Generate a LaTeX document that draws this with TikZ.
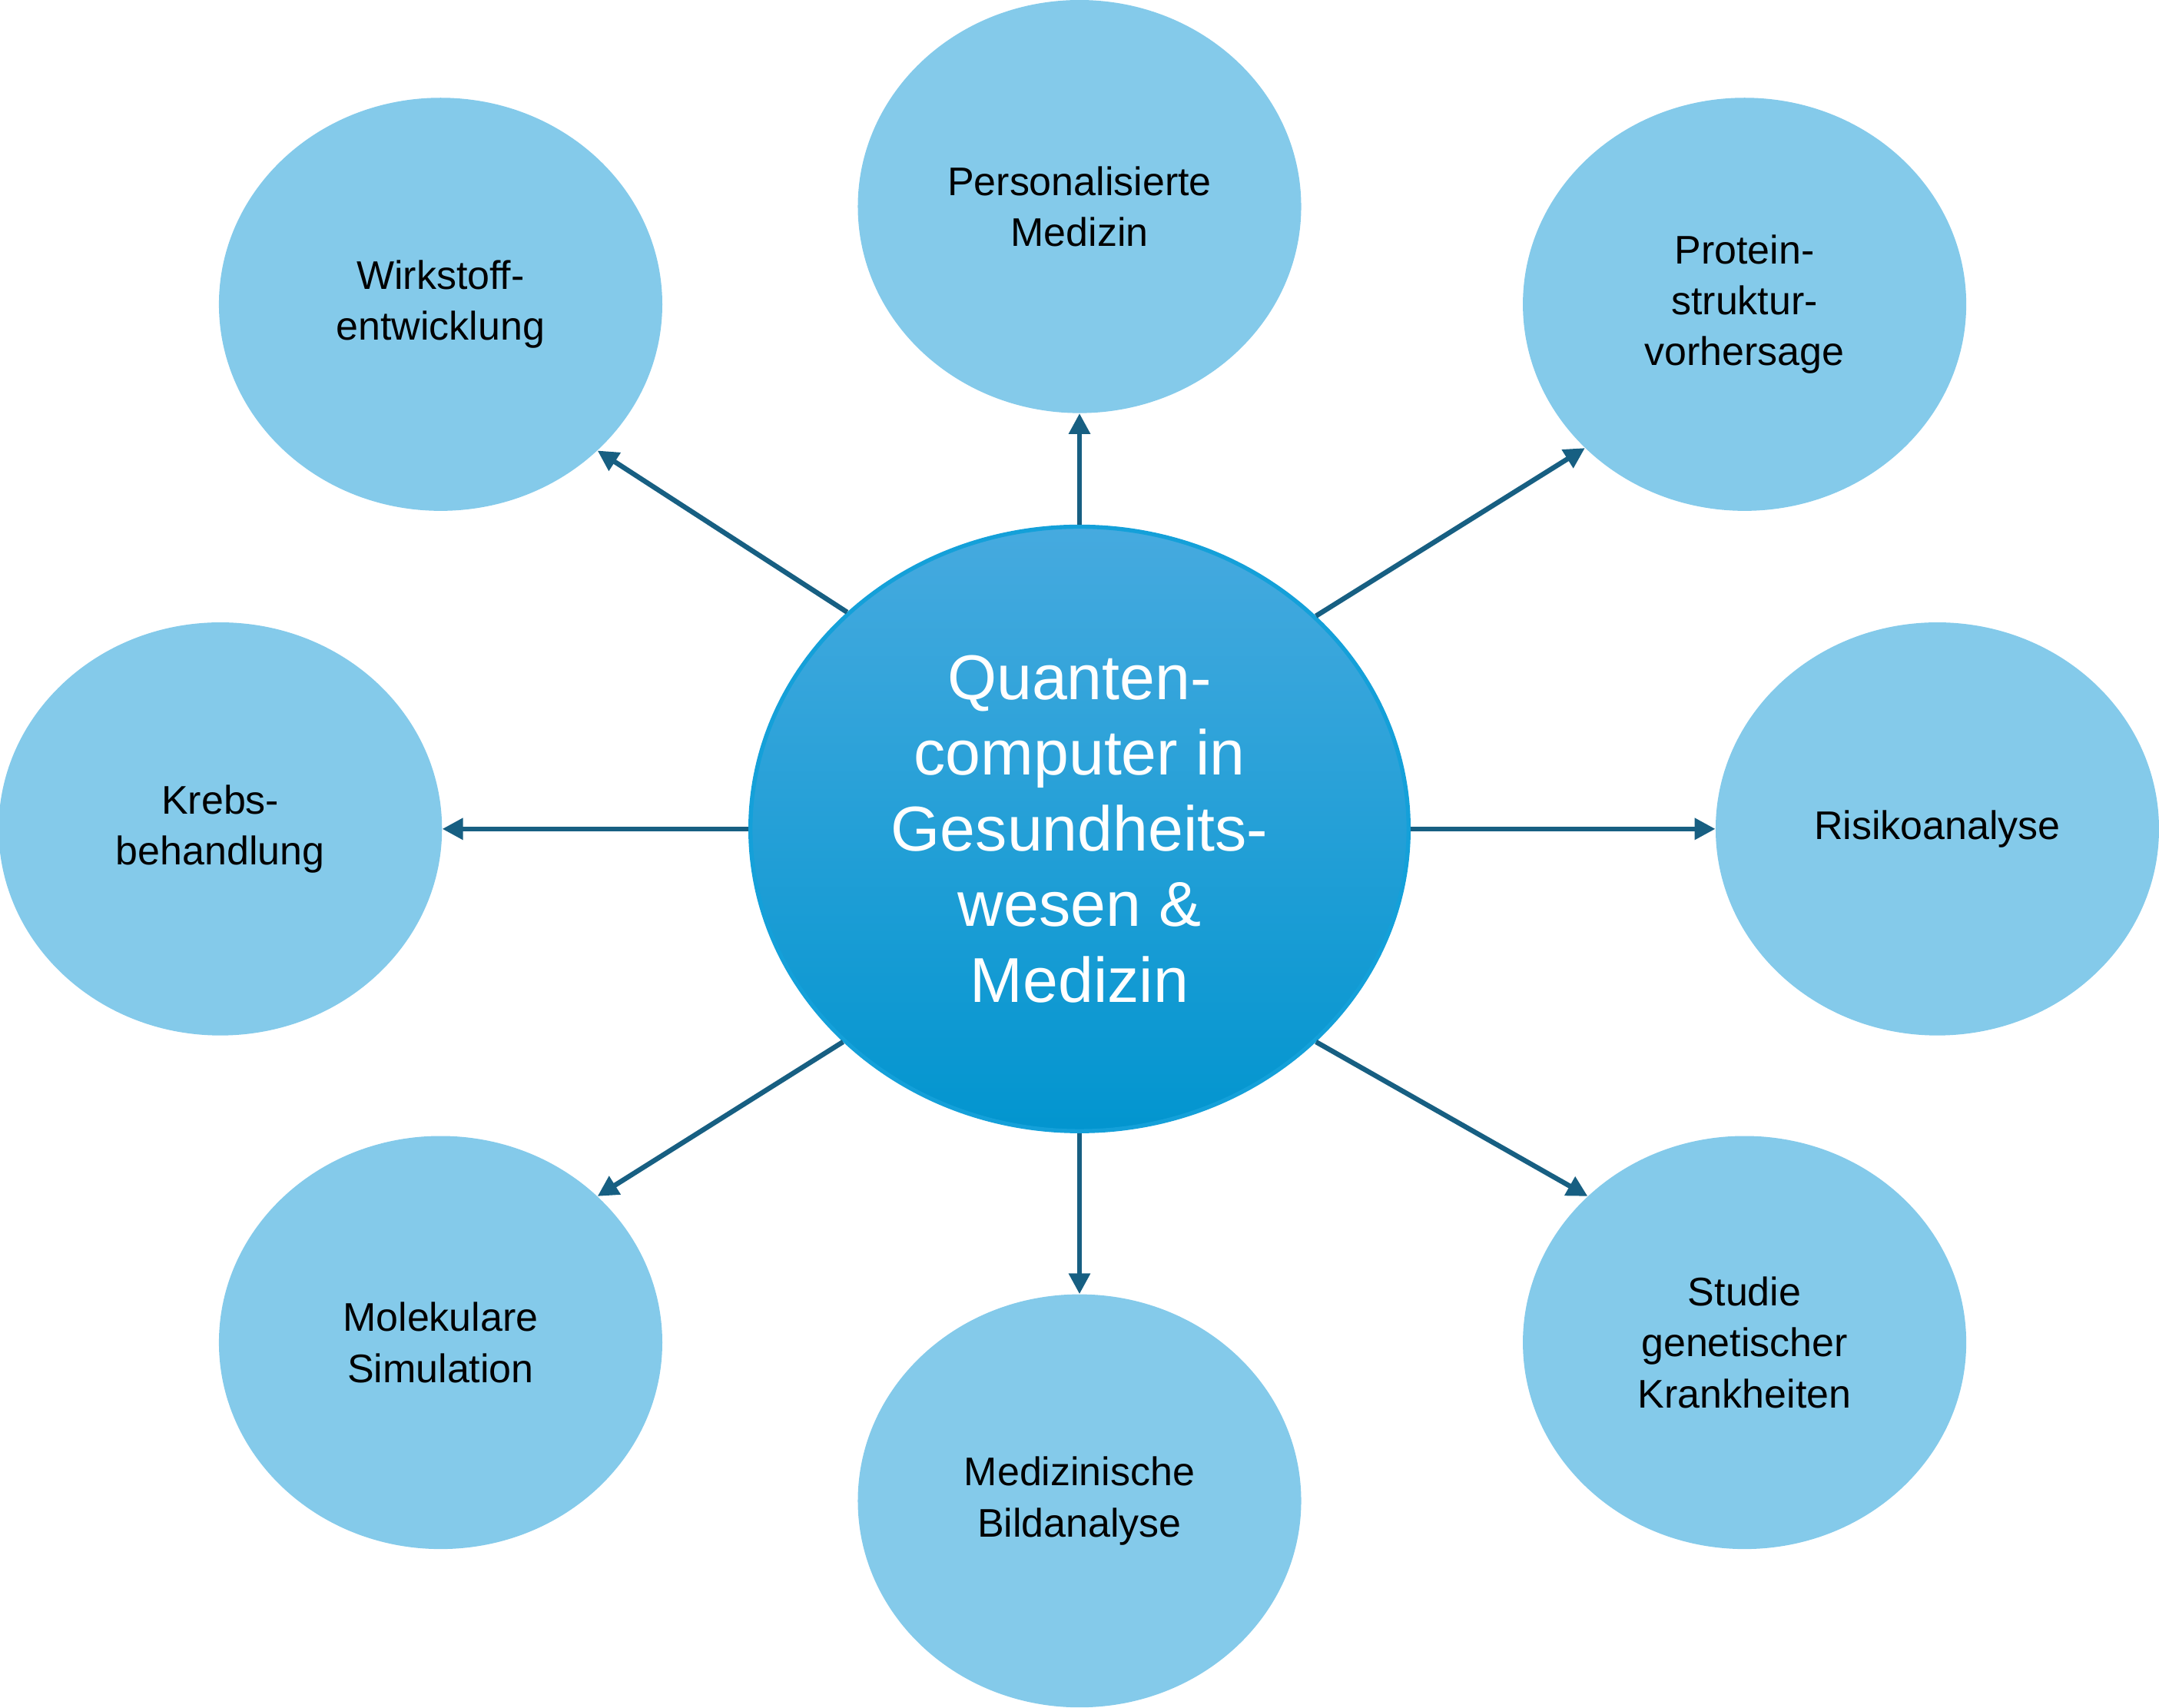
\documentclass[tikz,border=0pt]{standalone}
\usepackage{fontspec}
\setmainfont{Liberation Sans}
\usetikzlibrary{arrows.meta,shapes.geometric}
\definecolor{outerfill}{HTML}{84CAEA}
\definecolor{arrowcol}{HTML}{175F82}
\definecolor{ctop}{HTML}{46AADF}
\definecolor{cmid}{HTML}{08A3DF}
\definecolor{cbot}{HTML}{0295CF}
\definecolor{cborder}{HTML}{14A0D9}
\tikzset{
  outer/.style={ellipse, fill=outerfill, minimum width=322pt, minimum height=300pt, inner sep=0pt,
    align=center, font=\fontsize{29}{37}\selectfont, text=black},
  hub/.style={ellipse, draw=cborder, line width=3pt, top color=ctop, middle color=cmid, bottom color=cbot,
    minimum width=478pt, minimum height=439pt, inner sep=0pt, align=center,
    font=\fontsize{46}{55}\selectfont, text=white},
  conn/.style={draw=arrowcol, line width=3.6pt, -{Triangle[width=15pt,length=15pt]}}
}
\begin{document}
\begin{tikzpicture}[x=1pt,y=-1pt]
\useasboundingbox (0,0) rectangle (1568,1240);
\node[hub] (c) at (784,602) {Quanten-\\computer in\\Gesundheits-\\wesen \&\\Medizin};
\node[outer] (p) at (784,150) {Personalisierte\\Medizin};
\node[outer] (w) at (320,221) {Wirkstoff-\\entwicklung};
\node[outer] (pr) at (1267,221) {Protein-\\struktur-\\vorhersage};
\node[outer] (k) at (160,602) {Krebs-\\behandlung};
\node[outer] (r) at (1407,602) {Risikoanalyse};
\node[outer] (m) at (320,975) {Molekulare\\Simulation};
\node[outer] (b) at (784,1090) {Medizinische\\Bildanalyse};
\node[outer] (s) at (1267,975) {Studie\\genetischer\\Krankheiten};
\draw[conn] (c.90) -- (p.-90);
\draw[conn] (c.137.3) -- (w.-43);
\draw[conn] (c.42.7) -- (pr.222.4);
\draw[conn] (c.180) -- (k.0);
\draw[conn] (c.0) -- (r.180);
\draw[conn] (c.222.5) -- (m.43);
\draw[conn] (c.-90) -- (b.90);
\draw[conn] (c.-42.5) -- (s.137);
\end{tikzpicture}
\end{document}
